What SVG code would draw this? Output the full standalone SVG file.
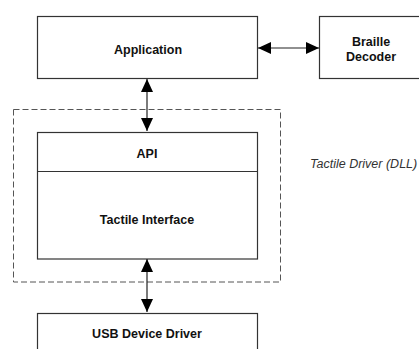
<svg xmlns="http://www.w3.org/2000/svg" width="419" height="349" viewBox="0 0 419 349">
<style>
.box{fill:#fff;stroke:#333;stroke-width:1.2}
.lbl{font-family:"Liberation Sans",Arial,sans-serif;font-weight:bold;font-size:12.5px;fill:#111;text-anchor:middle}
.note{font-family:"Liberation Sans",Arial,sans-serif;font-style:italic;font-size:12.5px;fill:#333}
.con{stroke:#222;stroke-width:1.2;fill:none}
</style>
<defs>
<marker id="ah" viewBox="0 0 13 12" refX="13" refY="6" markerWidth="13" markerHeight="12" markerUnits="userSpaceOnUse" orient="auto-start-reverse">
<path d="M0,0 L13,6 L0,12 Z" fill="#000"/>
</marker>
</defs>
<rect width="419" height="349" fill="#fff"/>
<g id="tactile-driver">
<rect x="13.5" y="109.5" width="267" height="172.5" fill="none" stroke="#555" stroke-width="1" stroke-dasharray="6,3"/>
<text class="note" x="310" y="167.5">Tactile Driver (DLL)</text>
</g>
<g id="application">
<rect class="box" x="37.5" y="16.5" width="220" height="62"/>
<text class="lbl" x="148" y="53.5">Application</text>
</g>
<g id="braille-decoder">
<rect class="box" x="319.5" y="16.5" width="104" height="62"/>
<text class="lbl" x="371" y="46">Braille</text>
<text class="lbl" x="371" y="60.5">Decoder</text>
</g>
<g id="tactile-interface">
<rect class="box" x="37.5" y="132.5" width="220" height="126.5"/>
<line x1="37.5" y1="171.5" x2="257.5" y2="171.5" stroke="#333" stroke-width="1.2"/>
<text class="lbl" x="147" y="157.5">API</text>
<text class="lbl" x="147" y="223.5">Tactile Interface</text>
</g>
<g id="usb-device-driver">
<rect class="box" x="37.5" y="313.5" width="220" height="50"/>
<text class="lbl" x="147" y="337.5">USB Device Driver</text>
</g>
<g id="connectors">
<line class="con" x1="258" y1="48" x2="319" y2="48" marker-start="url(#ah)" marker-end="url(#ah)"/>
<line class="con" x1="147" y1="79" x2="147" y2="131" marker-start="url(#ah)" marker-end="url(#ah)"/>
<line class="con" x1="147" y1="259" x2="147" y2="312" marker-start="url(#ah)" marker-end="url(#ah)"/>
</g>
</svg>
